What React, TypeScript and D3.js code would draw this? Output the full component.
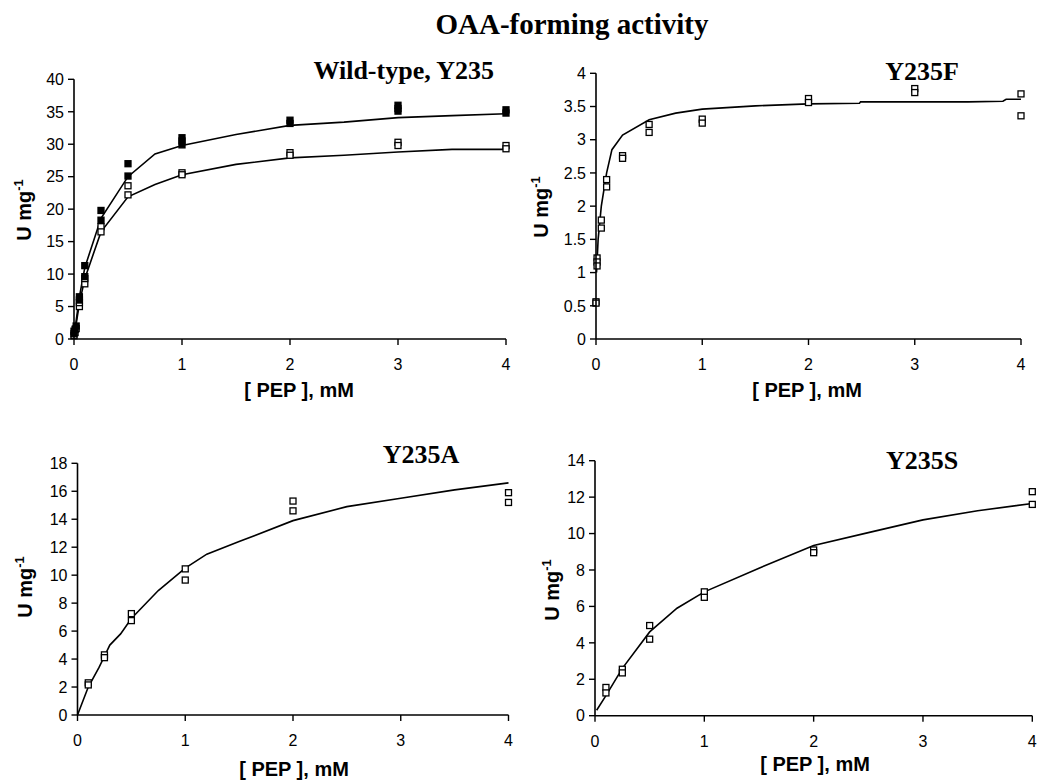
import React from "react";
import * as d3 from "d3";

// ---- Wild-type, Y235 ----
const wtHighX = [0, 0, 0.01, 0.02, 0.05, 0.05, 0.1, 0.1, 0.25, 0.25, 0.5, 0.5, 1, 1, 1, 2, 2, 3, 3, 3, 4, 4];
const wtHighY = [0.8, 1.2, 1.5, 2.0, 6.5, 6.0, 11.3, 9.6, 19.8, 18.3, 27.0, 25.1, 31.0, 30.5, 29.9, 33.7, 33.2, 36.0, 35.5, 35.1, 35.3, 34.8];
const wtLowX = [0, 0.01, 0.02, 0.05, 0.05, 0.1, 0.1, 0.25, 0.25, 0.5, 0.5, 1, 1, 2, 2, 3, 3, 4, 4];
const wtLowY = [0.5, 1.0, 1.6, 5.0, 5.6, 8.5, 9.3, 17.3, 16.5, 23.6, 22.2, 25.6, 25.3, 28.7, 28.3, 30.3, 29.8, 29.8, 29.3];
const wtFitX = [0, 0.02, 0.05, 0.1, 0.25, 0.5, 0.75, 1, 1.5, 2, 2.5, 3, 3.5, 4];
const wtHighFitY = [0, 2.8, 6.5, 11.0, 18.6, 25.0, 28.5, 29.8, 31.5, 32.9, 33.4, 34.1, 34.4, 34.7];
const wtLowFitY = [0, 2.3, 5.5, 9.3, 16.5, 21.9, 23.8, 25.3, 26.9, 27.9, 28.3, 28.8, 29.2, 29.2];

// ---- Y235F ----
const fX = [0, 0, 0.01, 0.01, 0.01, 0.05, 0.05, 0.1, 0.1, 0.25, 0.25, 0.5, 0.5, 1, 1, 2, 2, 3, 3, 4, 4];
const fY = [0.56, 0.54, 1.22, 1.16, 1.1, 1.79, 1.67, 2.4, 2.29, 2.76, 2.72, 3.23, 3.11, 3.31, 3.25, 3.62, 3.56, 3.77, 3.71, 3.69, 3.36];
const fFitX = [0.005, 0.02, 0.05, 0.1, 0.15, 0.25, 0.5, 0.75, 1, 1.5, 2, 2.48, 2.49, 3, 3.5, 3.83, 3.86, 4];
const fFitY = [1.0, 1.5, 2.0, 2.5, 2.85, 3.07, 3.3, 3.4, 3.46, 3.51, 3.54, 3.55, 3.57, 3.57, 3.57, 3.58, 3.61, 3.61];

// ---- Y235A ----
const aX = [0.1, 0.1, 0.25, 0.25, 0.5, 0.5, 1, 1, 2, 2, 4, 4];
const aY = [2.3, 2.15, 4.3, 4.1, 7.25, 6.75, 10.45, 9.65, 15.3, 14.6, 15.9, 15.2];
const aFitX = [0, 0.05, 0.1, 0.2, 0.25, 0.3, 0.4, 0.5, 0.75, 1, 1.2, 1.5, 2, 2.5, 3, 3.5, 4];
const aFitY = [0, 1.0, 2.0, 3.4, 4.2, 5.0, 5.8, 6.9, 8.9, 10.5, 11.5, 12.4, 13.9, 14.9, 15.5, 16.1, 16.6];

// ---- Y235S ----
const sX = [0.1, 0.1, 0.25, 0.25, 0.5, 0.5, 1, 1, 2, 2, 4, 4];
const sY = [1.55, 1.25, 2.55, 2.35, 4.95, 4.2, 6.8, 6.5, 9.1, 8.95, 12.3, 11.6];
const sFitX = [0.015, 0.1, 0.25, 0.5, 0.75, 1, 1.5, 2, 2.5, 3, 3.5, 4];
const sFitY = [0.3, 1.1, 2.6, 4.6, 5.9, 6.8, 8.1, 9.35, 10.05, 10.75, 11.25, 11.65];

// ---- tick labels ----
const xTicks = [0, 1, 2, 3, 4];
const wtYTicks = [0, 5, 10, 15, 20, 25, 30, 35, 40];
const fYTicks = [0, 0.5, 1, 1.5, 2, 2.5, 3, 3.5, 4];
const aYTicks = [0, 2, 4, 6, 8, 10, 12, 14, 16, 18];
const sYTicks = [0, 2, 4, 6, 8, 10, 12, 14];

const mainTitle = "OAA-forming activity";
const xLabel = "[ PEP ], mM";

type Series = { x: number[]; y: number[]; filled: boolean };
type Fit = { x: number[]; y: number[] };

type PanelSpec = {
  title: string;
  titleX: number;
  titleY: number;
  titleAnchor: "start" | "middle" | "end";
  box: { x0: number; x1: number; yTop: number; yBottom: number };
  yTicks: number[];
  series: Series[];
  fits: Fit[];
  yLabelPos: [number, number];
  xLabelPos: [number, number];
};

const panels: PanelSpec[] = [
  {
    title: "Wild-type, Y235",
    titleX: 494,
    titleY: 79,
    titleAnchor: "end",
    box: { x0: 74, x1: 506, yTop: 79.3, yBottom: 339 },
    yTicks: wtYTicks,
    series: [
      { x: wtLowX, y: wtLowY, filled: false },
      { x: wtHighX, y: wtHighY, filled: true },
    ],
    fits: [
      { x: wtFitX, y: wtHighFitY },
      { x: wtFitX, y: wtLowFitY },
    ],
    yLabelPos: [31, 210],
    xLabelPos: [299, 397],
  },
  {
    title: "Y235F",
    titleX: 922,
    titleY: 80,
    titleAnchor: "middle",
    box: { x0: 596, x1: 1021, yTop: 73.3, yBottom: 339 },
    yTicks: fYTicks,
    series: [{ x: fX, y: fY, filled: false }],
    fits: [{ x: fFitX, y: fFitY }],
    yLabelPos: [548, 207],
    xLabelPos: [807, 397],
  },
  {
    title: "Y235A",
    titleX: 421,
    titleY: 463,
    titleAnchor: "middle",
    box: { x0: 77.5, x1: 508.5, yTop: 463.3, yBottom: 715 },
    yTicks: aYTicks,
    series: [{ x: aX, y: aY, filled: false }],
    fits: [{ x: aFitX, y: aFitY }],
    yLabelPos: [32, 587],
    xLabelPos: [294, 776],
  },
  {
    title: "Y235S",
    titleX: 922,
    titleY: 469,
    titleAnchor: "middle",
    box: { x0: 595, x1: 1032.3, yTop: 460.7, yBottom: 715.7 },
    yTicks: sYTicks,
    series: [{ x: sX, y: sY, filled: false }],
    fits: [{ x: sFitX, y: sFitY }],
    yLabelPos: [559, 590],
    xLabelPos: [815, 771],
  },
];

const tickFont = "'Liberation Sans', Arial, sans-serif";
const serifFont = "'Liberation Serif', 'Times New Roman', serif";

function Panel({ p }: { p: PanelSpec }) {
  const { x0, x1, yTop, yBottom } = p.box;
  const yMax = p.yTicks[p.yTicks.length - 1];
  const x = d3.scaleLinear().domain([0, 4]).range([x0, x1]);
  const y = d3.scaleLinear().domain([0, yMax]).range([yBottom, yTop]);
  const line = d3
    .line<[number, number]>()
    .x((d) => x(d[0]))
    .y((d) => y(d[1]))
    .curve(d3.curveLinear);
  const m = 6;

  return (
    <g>
      {/* fitted curves */}
      {p.fits.map((f, i) => (
        <path
          key={"fit" + i}
          d={line(f.x.map((v, j) => [v, f.y[j]] as [number, number])) || ""}
          fill="none"
          stroke="#000"
          strokeWidth={1.6}
        />
      ))}
      {/* measured points */}
      {p.series.map((s, i) =>
        s.x.map((v, j) => (
          <rect
            key={`pt${i}-${j}`}
            x={x(v) - m / 2}
            y={y(s.y[j]) - m / 2}
            width={m}
            height={m}
            fill={s.filled ? "#000" : "#fff"}
            stroke="#000"
            strokeWidth={1.3}
          />
        ))
      )}
      {/* axes */}
      <line x1={x0} x2={x0} y1={yTop} y2={yBottom} stroke="#000" strokeWidth={1.6} />
      <line x1={x0} x2={x1} y1={yBottom} y2={yBottom} stroke="#000" strokeWidth={1.6} />
      {p.yTicks.map((t) => (
        <g key={"yt" + t}>
          <line x1={x0 - 6} x2={x0} y1={y(t)} y2={y(t)} stroke="#000" strokeWidth={1.4} />
          <text
            x={x0 - 10}
            y={y(t)}
            dy="0.36em"
            textAnchor="end"
            fontFamily={tickFont}
            fontSize={16}
            fill="#000"
          >
            {String(t)}
          </text>
        </g>
      ))}
      {xTicks.map((t) => (
        <g key={"xt" + t}>
          <line x1={x(t)} x2={x(t)} y1={yBottom} y2={yBottom + 6} stroke="#000" strokeWidth={1.4} />
          <text
            x={x(t)}
            y={yBottom + 31}
            textAnchor="middle"
            fontFamily={tickFont}
            fontSize={16}
            fill="#000"
          >
            {String(t)}
          </text>
        </g>
      ))}
      {/* axis titles */}
      <text
        transform={`translate(${p.yLabelPos[0]},${p.yLabelPos[1]}) rotate(-90)`}
        textAnchor="middle"
        fontFamily={tickFont}
        fontWeight="bold"
        fontSize={20}
        fill="#000"
      >
        U mg
        <tspan fontSize={13} dy={-8}>
          -1
        </tspan>
      </text>
      <text
        x={p.xLabelPos[0]}
        y={p.xLabelPos[1]}
        textAnchor="middle"
        fontFamily={tickFont}
        fontWeight="bold"
        fontSize={20}
        fill="#000"
      >
        {xLabel}
      </text>
      {/* panel title */}
      <text
        x={p.titleX}
        y={p.titleY}
        textAnchor={p.titleAnchor}
        fontFamily={serifFont}
        fontWeight="bold"
        fontSize={26}
        fill="#000"
      >
        {p.title}
      </text>
    </g>
  );
}

export default function App() {
  return (
    <svg
      width={1037}
      height={783}
      viewBox="0 0 1037 783"
      style={{ position: "absolute", left: 0, top: 0, background: "#fff" }}
    >
      <rect x={0} y={0} width={1037} height={783} fill="#fff" />
      <text
        x={572}
        y={34}
        textAnchor="middle"
        fontFamily={serifFont}
        fontWeight="bold"
        fontSize={29}
        fill="#000"
      >
        {mainTitle}
      </text>
      {panels.map((p) => (
        <Panel key={p.title} p={p} />
      ))}
    </svg>
  );
}
